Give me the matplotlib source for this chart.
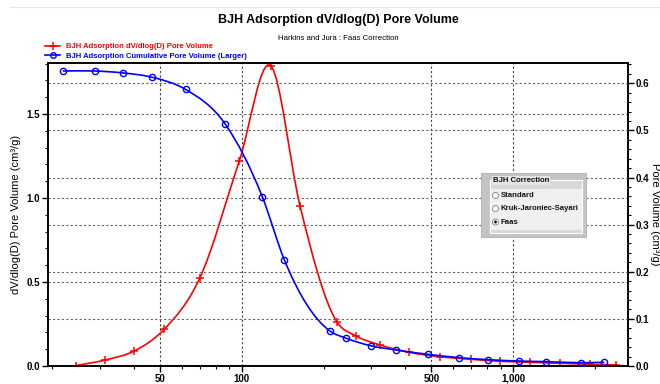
import numpy as np
import matplotlib
matplotlib.use("Agg")
import matplotlib.pyplot as plt
from matplotlib.path import Path
from matplotlib.patches import PathPatch, Rectangle, Ellipse
from matplotlib.lines import Line2D
from matplotlib.ticker import FixedLocator, NullFormatter, MultipleLocator, FormatStrFormatter

plt.rcParams['font.family'] = ['Liberation Sans', 'DejaVu Sans']

# ---- data ----
dv_diam = [24.4, 31.4, 40.1, 51.7, 70.1, 97.8, 128.1, 163.9, 223.8, 263.6, 323.5,
           411.5, 538.5, 698, 896, 1156, 1492, 1926, 2400]
dv_vals = [0.002, 0.036, 0.089, 0.218, 0.526, 1.22, 1.786, 0.952, 0.264, 0.179, 0.125,
           0.082, 0.055, 0.040, 0.028, 0.022, 0.016, 0.010, 0.006]
cum_diam = [21.9, 28.7, 36.4, 46.5, 62.0, 86.7, 119, 143.5, 211, 242, 298.6,
            370, 485, 634, 811, 1047, 1322, 1778, 2168]
cum_vals = [0.626, 0.626, 0.622, 0.613, 0.587, 0.514, 0.359, 0.225, 0.0743, 0.059, 0.043,
            0.034, 0.0248, 0.0177, 0.0134, 0.0106, 0.0092, 0.0071, 0.0078]
xtick_vals = [50, 100, 500, 1000]
xtick_labels = ['50', '100', '500', '1,000']
title = 'BJH Adsorption dV/dlog(D) Pore Volume'
subtitle = 'Harkins and Jura : Faas Correction'
label_dv = 'BJH Adsorption dV/dlog(D) Pore Volume'
label_cum = 'BJH Adsorption Cumulative Pore Volume (Larger)'
radio_options = ['Standard', 'Kruk-Jaroniec-Sayari', 'Faas']
radio_selected = 2

W, H = 660, 384
fig = plt.figure(figsize=(W / 100, H / 100), dpi=100)
fig.patch.set_facecolor('white')

def fx(px):
    return px / W

def fy(py):
    return 1 - py / H

ax_l, ax_r, ax_t, ax_b = 48, 628, 63, 366
ax = fig.add_axes([fx(ax_l), fy(ax_b), fx(ax_r - ax_l), (ax_b - ax_t) / H])
ax2 = ax.twinx()

def smooth_path(xs, ys):
    """Hermite curve through the data points (in log-x space), rendered as Bezier segments."""
    lx = np.log10(np.asarray(xs, float))
    y = np.asarray(ys, float)
    n = len(lx)
    d = np.diff(y) / np.diff(lx)
    m = np.zeros(n)
    m[0], m[-1] = d[0], d[-1]
    for i in range(1, n - 1):
        h0, h1 = lx[i] - lx[i - 1], lx[i + 1] - lx[i]
        m[i] = (h1 * d[i - 1] + h0 * d[i]) / (h0 + h1)
    verts = [(lx[0], y[0])]
    codes = [Path.MOVETO]
    for i in range(n - 1):
        h = lx[i + 1] - lx[i]
        c1 = (lx[i] + h / 3, y[i] + m[i] * h / 3)
        c2 = (lx[i + 1] - h / 3, y[i + 1] - m[i + 1] * h / 3)
        verts += [c1, c2, (lx[i + 1], y[i + 1])]
        codes += [Path.CURVE4] * 3
    verts = [(10 ** a, b) for a, b in verts]
    return Path(verts, codes)

ax.set_xscale('log')
ax.set_xlim(19.3, 2650)
ax.set_ylim(0, 1.804)
ax2.set_ylim(0, 0.643)

# grid
for v in [0.5, 1.0, 1.5]:
    ax.axhline(v, color='#666666', ls=(0, (2, 2)), lw=0.8, zorder=1)
for v in [0.1, 0.2, 0.3, 0.4, 0.5, 0.6]:
    ax2.axhline(v, color='#666666', ls=(0, (2, 2)), lw=0.8, zorder=1)
for v in xtick_vals:
    ax.axvline(v, color='#444444', ls=(0, (2, 2)), lw=0.8, zorder=1)

# series
ax.add_patch(PathPatch(smooth_path(dv_diam, dv_vals), fill=False, edgecolor='#ff0000', lw=1.2, zorder=3))
ax.plot(dv_diam, dv_vals, ls='none', marker='+', color='#ff0000', ms=6, mew=1.1, zorder=4)
ax2.add_patch(PathPatch(smooth_path(cum_diam, cum_vals), fill=False, edgecolor='#0000ff', lw=1.2, zorder=3))
ax2.plot(cum_diam, cum_vals, ls='none', marker='o', color='#0000ff', ms=4.5, mew=1.0, mfc='none', zorder=4)

# ticks
ax.xaxis.set_major_locator(FixedLocator(xtick_vals))
ax.set_xticklabels(xtick_labels)
minor_x = [20, 30, 40, 60, 70, 80, 90, 200, 300, 400, 600, 700, 800, 900, 2000]
ax.xaxis.set_minor_locator(FixedLocator(minor_x))
ax.xaxis.set_minor_formatter(NullFormatter())
ax.yaxis.set_major_locator(MultipleLocator(0.5))
ax.yaxis.set_minor_locator(MultipleLocator(0.1))
ax.yaxis.set_major_formatter(FormatStrFormatter('%.1f'))
ax2.yaxis.set_major_locator(MultipleLocator(0.1))
ax2.yaxis.set_minor_locator(MultipleLocator(0.02))
ax2.yaxis.set_major_formatter(FormatStrFormatter('%.1f'))

for a in (ax, ax2):
    a.tick_params(which='major', direction='out', length=4, width=1, labelsize=7, pad=1.5)
    a.tick_params(which='minor', direction='out', length=2.5, width=0.8)
    for lbl in a.get_xticklabels() + a.get_yticklabels():
        lbl.set_fontweight('bold')
for sp in ax.spines.values():
    sp.set_linewidth(1.2)
for sp in ax2.spines.values():
    sp.set_linewidth(1.2)

ax.set_ylabel('dV/dlog(D) Pore Volume (cm³/g)', fontsize=8, labelpad=4)
ax2.set_ylabel('Pore Volume (cm³/g)', fontsize=8, rotation=270, labelpad=8)

# titles
fig.text(fx(338), fy(20), title, ha='center', va='center', fontsize=9, fontweight='bold')
fig.text(fx(338), fy(39), subtitle, ha='center', va='center', fontsize=5.6)

# legend (manual placement in figure)
h1 = Line2D([], [], color='#ff0000', marker='+', ms=6, mew=1.1, lw=1.2)
h2 = Line2D([], [], color='#0000ff', marker='o', ms=4, mew=1.0, mfc='none', lw=1.2)
leg = fig.legend([h1, h2], [label_dv, label_cum], loc='upper left',
                 bbox_to_anchor=(fx(45), fy(43)), frameon=False, fontsize=5.5,
                 handlelength=2.0, handletextpad=0.8, labelspacing=0.3,
                 borderpad=0, borderaxespad=0, labelcolor='linecolor')
for t in leg.get_texts():
    t.set_fontweight('bold')

# BJH Correction panel
def rect(x0, y0, x1, y1, **kw):
    fig.patches.append(Rectangle((fx(x0), fy(y1)), fx(x1 - x0), (y1 - y0) / H,
                                 transform=fig.transFigure, figure=fig, **kw))

rect(481, 173, 586, 237, facecolor='#c4c4c4', edgecolor='#b0b0b0', lw=0.6, zorder=5)
rect(490, 180, 582, 233, facecolor='#d8d8d8', edgecolor='#ffffff', lw=0.8, zorder=5)
row_tops = [189, 202, 215.5]
for i, opt in enumerate(radio_options):
    y0 = row_tops[i]
    rect(491, y0, 581, y0 + 13, facecolor='#efefef', edgecolor='#f8f8f8', lw=0.5, zorder=6)
    yc = y0 + 6.5
    fig.patches.append(Ellipse((fx(495.5), fy(yc)), 6 / W, 6 / H, transform=fig.transFigure,
                               figure=fig, facecolor='white', edgecolor='#808080', lw=0.6, zorder=7))
    if i == radio_selected:
        fig.patches.append(Ellipse((fx(495.5), fy(yc)), 2.4 / W, 2.4 / H, transform=fig.transFigure,
                                   figure=fig, facecolor='black', edgecolor='black', lw=0.3, zorder=8))
    fig.text(fx(500.5), fy(yc), opt, ha='left', va='center', fontsize=5.6, fontweight='bold',
             color='#111111', zorder=9)
fig.text(fx(493), fy(180.5), 'BJH Correction', ha='left', va='center', fontsize=5.6,
         fontweight='bold', color='#111111', zorder=9,
         bbox=dict(facecolor='#e6e6e6', edgecolor='none', pad=0.6))

# faint top separator
fig.add_artist(Line2D([fx(10), fx(660)], [fy(7), fy(7)], transform=fig.transFigure,
                      color='#e4e4e4', lw=0.8))

fig.savefig('out.png', dpi=100)
